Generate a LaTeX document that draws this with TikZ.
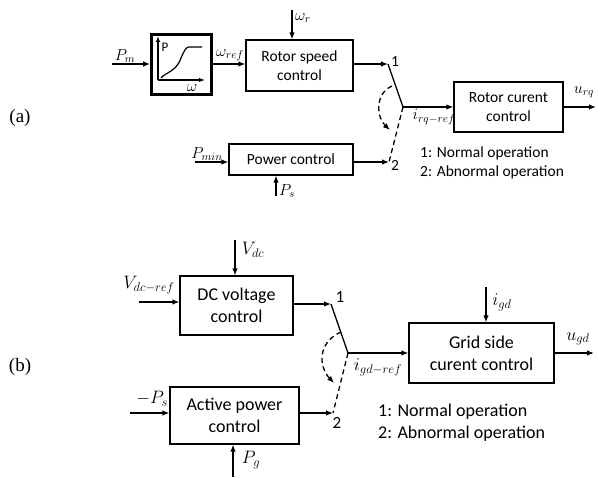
\RequirePackage{fix-cm}
\documentclass[tikz,border=0pt]{standalone}
\usepackage{fontspec}
\newfontfamily\calib{Carlito}
\newfontfamily\timesf{Liberation Serif}
\usetikzlibrary{arrows.meta}
\begin{document}
\begin{tikzpicture}[x=1pt,y=-1pt,
  blk/.style={draw, line width=1.2pt, inner sep=0pt, align=center},
  txa/.style={font=\calib\fontsize{15.5}{19}\selectfont},
  txb/.style={font=\calib\fontsize{18}{22}\selectfont},
  mla/.style={inner sep=0pt, font=\fontsize{16}{18}\selectfont},
  mlb/.style={inner sep=0pt, font=\fontsize{18}{20}\selectfont},
  sig/.style={line width=1.3pt, -{Latex[length=7pt,width=5.5pt]}},
  swl/.style={line width=1.3pt},
  dsh/.style={line width=1.3pt, dash pattern=on 5pt off 3.5pt},
  dsha/.style={line width=1.3pt, dash pattern=on 5pt off 3.5pt, -{Latex[length=7pt,width=5.5pt]}},
  tag/.style={inner sep=0pt, font=\timesf\fontsize{19}{22}\selectfont}
]
\useasboundingbox (0,0) rectangle (598,478);

% ---------------- (a) ----------------
\node[tag] (ta) at (20,118) {(a)};
\node[draw, line width=2.6pt, minimum width=60pt, minimum height=60pt, inner sep=0pt] (fbox) at (181.5,64.5) {};
\coordinate (org) at (158,80);
\coordinate (ytip) at (158,36);
\coordinate (xtip) at (205,80);
\draw[line width=1.2pt, -{Latex[length=6pt,width=4.5pt]}] (org) -- (ytip);
\draw[line width=1.2pt, -{Latex[length=6pt,width=4.5pt]}] (org) -- (xtip);
\draw[line width=1.2pt] (161,78) .. controls (166,72) and (176,72) .. (181,58) .. controls (184,51) and (186,47) .. (189,47) -- (202,47);
\node[inner sep=0pt, font=\calib\fontsize{13}{15}\selectfont] (plab) at (165,47) {P};
\node[mla] (wlab) at (192,88) {$\omega$};

\node[blk, txa, minimum width=107pt, minimum height=51pt] (rsc) at (299.5,65.5) {Rotor speed\\control};
\node[blk, txa, minimum width=109pt, minimum height=50pt] (rcc) at (508.5,107) {Rotor curent\\control};
\node[blk, txa, minimum width=124pt, minimum height=31pt] (pc) at (291,159.5) {Power control};

\coordinate (pmin) at (112,64);
\coordinate (wrtop) at (292,10);
\coordinate (swa1) at (388,64);
\coordinate (swam) at (403,107);
\coordinate (swa2) at (389,162);
\coordinate (urqend) at (596,107);
\coordinate (psbot) at (276,196);
\coordinate (pminin) at (195,162);

\draw[sig] (pmin) -- (pmin -| fbox.west);
\draw[sig] (fbox.east |- pmin) -- (pmin -| rsc.west);
\draw[sig] (wrtop) -- (wrtop |- rsc.north);
\draw[sig] (rsc.east |- swa1) -- (swa1);
\draw[swl] (swa1) -- (swam);
\draw[sig] (swam) -- (swam -| rcc.west);
\draw[sig] (rcc.east) -- (urqend);
\draw[dsh] (swam) -- (swa2);
\draw[sig] (pminin) -- (pminin -| pc.west);
\draw[sig] (pc.east |- swa2) -- (swa2);
\draw[sig] (psbot) -- (psbot |- pc.south);
\coordinate (caS) at (392,86);
\coordinate (caE) at (390,130);
\draw[dsha] (caS) .. controls (374,94) and (377,118) .. (caE);

\node[mla] (lpm) at (125,56) {$P_m$};
\node[mla] (lwref) at (230,55) {$\omega_{ref}$};
\node[mla] (lwr) at (303,18) {$\omega_r$};
\node[inner sep=0pt, font=\calib\fontsize{15.5}{19}\selectfont] (la1) at (395,62) {1};
\node[inner sep=0pt, font=\calib\fontsize{15.5}{19}\selectfont] (la2) at (395,165) {2};
\node[mla] (lirq) at (434,117) {$i_{rq-ref}$};
\node[mla] (lurq) at (584,92) {$u_{rq}$};
\node[mla] (lpmin) at (207,154) {$P_{min}$};
\node[mla] (lps) at (287,191) {$P_s$};
\node[txa, inner sep=0pt, anchor=west] (lga1) at (420,153) {1: Normal operation};
\node[txa, inner sep=0pt, anchor=west] (lga2) at (420,172) {2: Abnormal operation};

% ---------------- (b) ----------------
\node[tag] (tb) at (20,367) {(b)};
\node[blk, txb, minimum width=113pt, minimum height=59pt] (dcv) at (236.5,305.5) {DC voltage\\control};
\node[blk, txb, minimum width=129pt, minimum height=57pt] (apc) at (234.5,415.5) {Active power\\control};
\node[blk, txb, minimum width=145pt, minimum height=60pt] (gsc) at (481.5,353) {Grid side\\curent control};

\coordinate (vdcin) at (139,302);
\coordinate (vdctop) at (235,240);
\coordinate (swb1) at (331,304);
\coordinate (swbm) at (348,353);
\coordinate (swb2) at (333,413);
\coordinate (ugdend) at (594,353);
\coordinate (igdtop) at (486,287);
\coordinate (pgbot) at (233,477);
\coordinate (mpsin) at (130,413);

\draw[sig] (vdcin) -- (vdcin -| dcv.west);
\draw[sig] (vdctop) -- (vdctop |- dcv.north);
\draw[sig] (dcv.east |- swb1) -- (swb1);
\draw[swl] (swb1) -- (swbm);
\draw[sig] (swbm) -- (swbm -| gsc.west);
\draw[sig] (igdtop) -- (igdtop |- gsc.north);
\draw[sig] (gsc.east) -- (ugdend);
\draw[dsh] (swbm) -- (swb2);
\draw[sig] (mpsin) -- (mpsin -| apc.west);
\draw[sig] (apc.east |- swb2) -- (swb2);
\draw[sig] (pgbot) -- (pgbot |- apc.south);
\coordinate (cbS) at (341,332);
\coordinate (cbE) at (334,383);
\draw[dsha] (cbS) .. controls (318,342) and (318,366) .. (cbE);

\node[mlb] (lvdc) at (253,250) {$V_{dc}$};
\node[mlb] (lvdcref) at (149,285) {$V_{dc-ref}$};
\node[inner sep=0pt, font=\calib\fontsize{17}{20}\selectfont] (lb1) at (340,297) {1};
\node[inner sep=0pt, font=\calib\fontsize{17}{20}\selectfont] (lb2) at (337,423) {2};
\node[mlb] (ligd) at (378,367) {$i_{gd-ref}$};
\node[mlb] (ligdl) at (502,302) {$i_{gd}$};
\node[mlb] (lugd) at (578,339) {$u_{gd}$};
\node[mlb] (lmps) at (152,399) {$-P_s$};
\node[mlb] (lpg) at (251,460) {$P_g$};
\node[txb, inner sep=0pt, anchor=west] (lgb1) at (378,412) {1: Normal operation};
\node[txb, inner sep=0pt, anchor=west] (lgb2) at (378,434) {2: Abnormal operation};
\end{tikzpicture}
\end{document}
